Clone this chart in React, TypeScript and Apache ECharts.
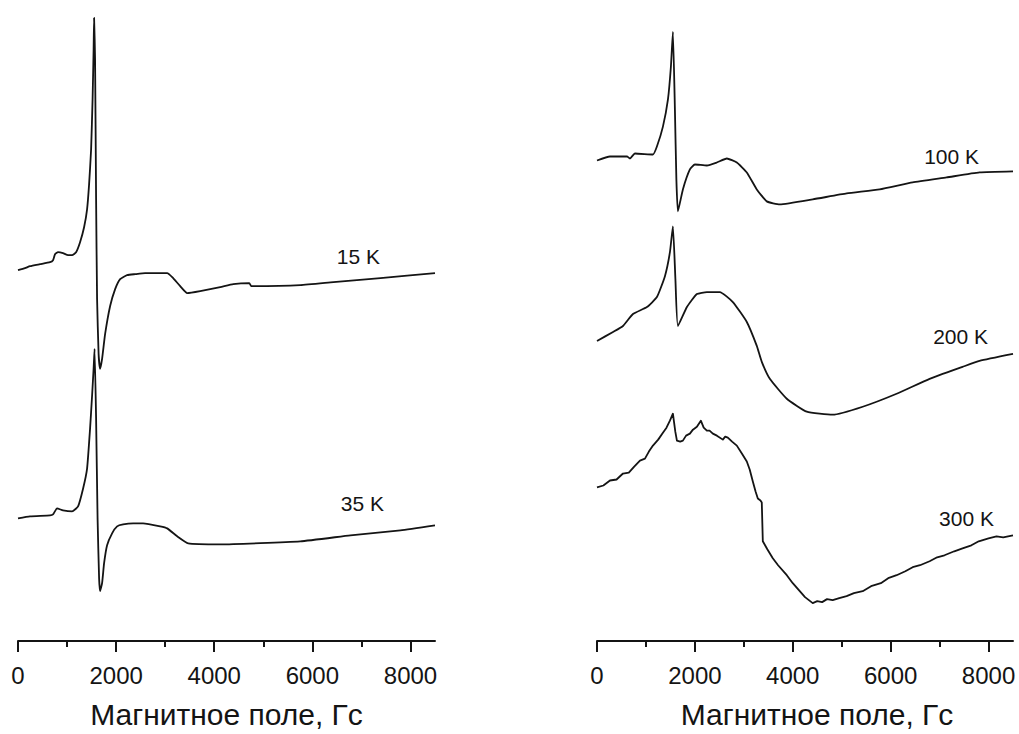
import React, { useEffect, useRef } from "react";
import * as echarts from "echarts";

// Magnetic field (G) and EPR signal (arbitrary units, common offset per panel)
const field15K = [0, 143, 245, 449, 653, 714, 755, 816, 918, 1020, 1102, 1184, 1265, 1347, 1408, 1449, 1490, 1520, 1541, 1551, 1571, 1592, 1612, 1643, 1673, 1714, 1776, 1878, 1980, 2082, 2224, 2388, 2592, 2898, 3041, 3143, 3306, 3449, 3714, 4122, 4388, 4714, 4755, 5755, 6429, 7388, 8500];
const signal15K = [372, 374, 376, 378, 380, 382, 388, 390, 389, 387, 387, 390, 400, 415, 433, 458, 493, 543, 593, 625, 583, 443, 343, 288, 273, 283, 308, 336, 353, 363, 367, 368, 369, 369, 369, 365, 356, 349, 351, 355, 358, 359, 356, 357, 360, 364, 369];

const field35K = [0, 245, 653, 714, 796, 918, 1102, 1224, 1327, 1408, 1469, 1510, 1541, 1561, 1592, 1622, 1653, 1673, 1714, 1755, 1816, 1918, 2020, 2143, 2347, 2551, 2898, 3041, 3245, 3469, 4122, 5755, 6776, 7796, 8500];
const signal35K = [123, 125, 126, 127, 133, 131, 130, 135, 153, 173, 213, 246, 273, 293, 223, 123, 63, 50, 58, 78, 96, 108, 115, 117, 118, 118, 115, 113, 105, 98, 97, 100, 106, 111, 116];

const field100K = [0, 265, 612, 673, 776, 1143, 1224, 1347, 1449, 1510, 1551, 1592, 1622, 1653, 1755, 1898, 2000, 2245, 2449, 2653, 2857, 3061, 3265, 3469, 3735, 4408, 5102, 5776, 6449, 7143, 7816, 8500];
const signal100K = [482, 486, 486, 484, 489, 488, 496, 516, 543, 576, 611, 533, 463, 431, 453, 473, 478, 477, 480, 484, 480, 470, 453, 441, 438, 443, 449, 453, 460, 465, 470, 471];

const field200K = [0, 327, 531, 735, 1020, 1224, 1388, 1490, 1551, 1602, 1653, 1837, 2041, 2245, 2510, 2776, 3061, 3265, 3367, 3531, 3878, 4286, 4816, 5429, 6122, 6796, 7469, 7816, 8500];
const signal200K = [301, 310, 316, 328, 335, 345, 366, 390, 416, 363, 316, 335, 348, 350, 350, 340, 320, 296, 280, 263, 243, 230, 227, 235, 248, 263, 275, 281, 288];

const field300K = [0, 130, 265, 400, 531, 650, 760, 878, 980, 1060, 1143, 1250, 1347, 1420, 1490, 1551, 1600, 1633, 1700, 1755, 1820, 1898, 1960, 2041, 2122, 2180, 2245, 2300, 2367, 2450, 2571, 2620, 2673, 2760, 2857, 2960, 3061, 3120, 3184, 3240, 3286, 3340, 3367, 3388, 3480, 3592, 3700, 3878, 4000, 4143, 4250, 4408, 4500, 4600, 4700, 4816, 4950, 5100, 5250, 5429, 5600, 5800, 5950, 6122, 6300, 6450, 6600, 6796, 6950, 7100, 7300, 7469, 7650, 7800, 8000, 8163, 8300, 8500];
const signal300K = [154, 156, 161, 162, 168, 169, 175, 181, 183, 190, 196, 202, 209, 214, 221, 228, 210, 201, 200, 201, 206, 208, 212, 215, 221, 214, 211, 211, 208, 206, 202, 205, 204, 200, 196, 188, 180, 172, 160, 150, 143, 141, 139, 100, 92, 83, 76, 66, 58, 50, 44, 38, 40, 39, 42, 41, 43, 45, 48, 50, 55, 58, 63, 66, 70, 74, 76, 80, 84, 86, 90, 93, 96, 100, 103, 105, 104, 106];

const majorTicks = [0, 2000, 4000, 6000, 8000];
const minorTicks = [1000, 3000, 5000, 7000];
const axisTitle = "Магнитное поле, Гс";

const FONT = "Arial, 'Liberation Sans', Helvetica, sans-serif";
const INK = "#141414";

function zip(xs: number[], ys: number[]) {
  return xs.map((x, i) => [x, ys[i]]);
}

function curve(name: string, xs: number[], ys: number[], gi: number, labelAt: [number, number], smooth: number) {
  return {
    type: "line",
    name,
    xAxisIndex: gi * 2,
    yAxisIndex: gi,
    data: zip(xs, ys),
    showSymbol: false,
    symbol: "none",
    smooth,
    lineStyle: { color: INK, width: 1.8, join: "round" },
    markPoint: {
      symbol: "circle",
      symbolSize: 1,
      itemStyle: { color: "rgba(0,0,0,0)" },
      label: {
        show: true,
        position: "inside",
        formatter: name,
        color: INK,
        fontSize: 21,
        fontFamily: FONT,
      },
      data: [{ coord: labelAt }],
    },
  };
}

function mainX(gi: number, namePad: number[]) {
  return {
    type: "value",
    gridIndex: gi,
    min: 0,
    max: 8500,
    position: "bottom",
    axisLine: { show: true, onZero: false, lineStyle: { color: INK, width: 2 } },
    axisTick: { show: true, customValues: majorTicks, length: 11, lineStyle: { color: INK, width: 2 } },
    axisLabel: {
      show: true,
      customValues: majorTicks,
      formatter: (v: number) => String(v),
      fontSize: 24,
      color: INK,
      fontFamily: FONT,
      margin: 22,
    },
    splitLine: { show: false },
    name: axisTitle,
    nameLocation: "middle",
    nameGap: 58,
    nameTextStyle: { fontSize: 30, color: INK, fontFamily: FONT, padding: namePad },
  };
}

function minorX(gi: number) {
  return {
    type: "value",
    gridIndex: gi,
    min: 0,
    max: 8500,
    position: "bottom",
    offset: 0,
    axisLine: { show: false },
    axisTick: { show: true, customValues: minorTicks, length: 6, lineStyle: { color: INK, width: 2 } },
    axisLabel: { show: false },
    splitLine: { show: false },
  };
}

export default function App() {
  const ref = useRef<HTMLDivElement>(null);
  useEffect(() => {
    if (!ref.current) return;
    const chart = echarts.init(ref.current, null, { renderer: "svg" });
    chart.setOption({
      animation: false,
      backgroundColor: "#ffffff",
      grid: [
        { left: 18, width: 417, top: 0, bottom: 91 },
        { left: 597, width: 416, top: 0, bottom: 91 },
      ],
      xAxis: [mainX(0, [0, 0, 0, 0]), minorX(0), mainX(1, [0, 0, 0, 24]), minorX(1)],
      yAxis: [
        { type: "value", gridIndex: 0, min: 0, max: 643, show: false },
        { type: "value", gridIndex: 1, min: 0, max: 643, show: false },
      ],
      series: [
        curve("15 K", field15K, signal15K, 0, [6939, 386], 0.15),
        curve("35 K", field35K, signal35K, 0, [7020, 138], 0.15),
        curve("100 K", field100K, signal100K, 1, [7245, 486], 0.15),
        curve("200 K", field200K, signal200K, 1, [7429, 305], 0.15),
        curve("300 K", field300K, signal300K, 1, [7551, 123], 0),
      ],
    });
    return () => chart.dispose();
  }, []);
  return (
    <div
      ref={ref}
      style={{ position: "fixed", left: 0, top: 0, width: 1019, height: 734, background: "#fff" }}
    />
  );
}
